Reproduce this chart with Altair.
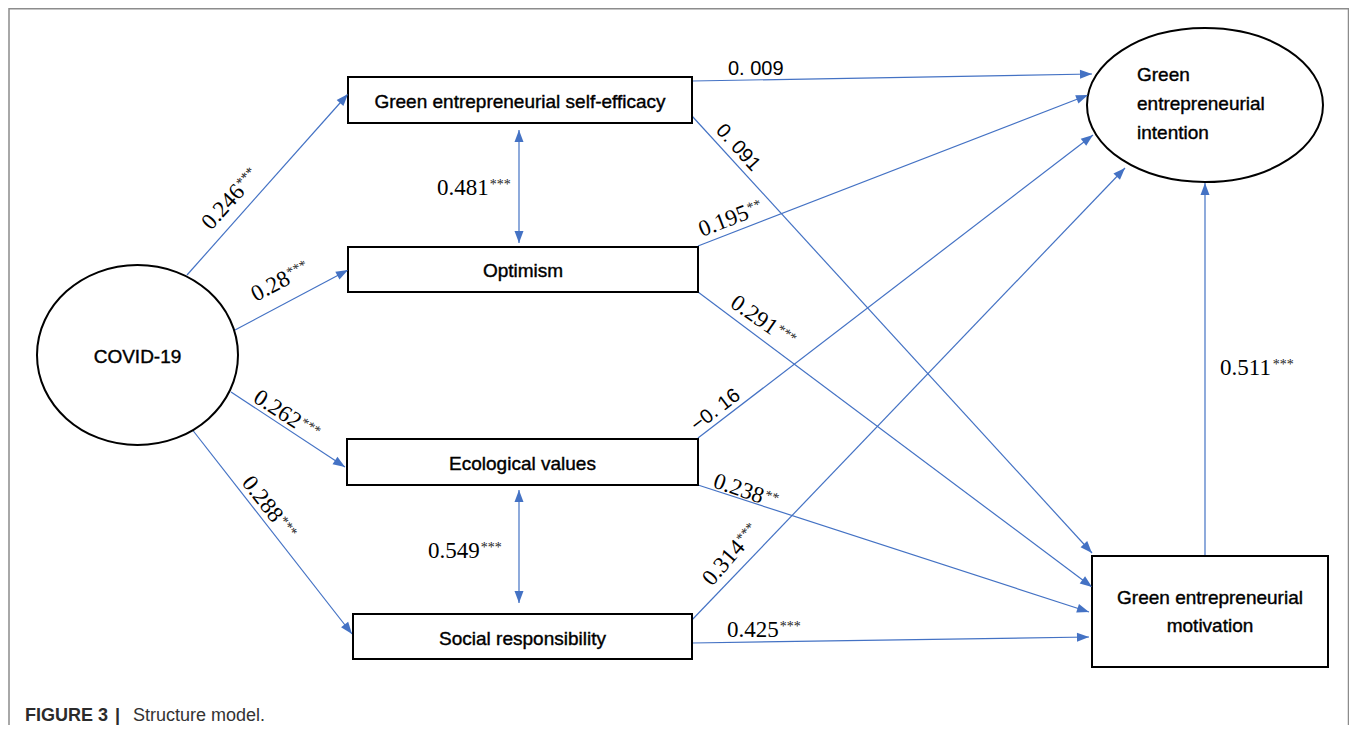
import math
import altair as alt
import pandas as pd

# ---------------- data ----------------
path_from = ["COVID-19", "COVID-19", "COVID-19", "COVID-19",
             "Green entrepreneurial self-efficacy", "Green entrepreneurial self-efficacy",
             "Optimism", "Optimism", "Ecological values", "Ecological values",
             "Social responsibility", "Social responsibility",
             "Green entrepreneurial motivation"]
path_to = ["Green entrepreneurial self-efficacy", "Optimism", "Ecological values",
           "Social responsibility",
           "Green entrepreneurial intention", "Green entrepreneurial motivation",
           "Green entrepreneurial intention", "Green entrepreneurial motivation",
           "Green entrepreneurial intention", "Green entrepreneurial motivation",
           "Green entrepreneurial intention", "Green entrepreneurial motivation",
           "Green entrepreneurial intention"]
path_coef = ["0.246", "0.28", "0.262", "0.288", "0. 009", "0. 091", "0.195", "0.291",
             "\u22120. 16", "0.238", "0.314", "0.425", "0.511"]
path_sig = ["***", "***", "***", "***", "", "", "**", "***", "", "**", "***", "***", "***"]

corr_a = ["Green entrepreneurial self-efficacy", "Ecological values"]
corr_b = ["Optimism", "Social responsibility"]
corr_coef = ["0.481", "0.549"]
corr_sig = ["***", "***"]

caption_text = ["FIGURE 3", "|", "Structure model."]

# ---------------- layout (positions in page pixels) ----------------
box_layout = {
    "Green entrepreneurial self-efficacy": (348, 77, 692, 123),
    "Optimism": (348, 247, 698, 292),
    "Ecological values": (347, 439, 698, 485),
    "Social responsibility": (353, 614, 692, 659),
    "Green entrepreneurial motivation": (1092, 556, 1328, 667),
}
ellipse_layout = {
    "COVID-19": (137.5, 355, 100.5, 90),
    "Green entrepreneurial intention": (1205, 105, 118, 77),
}
node_text_layout = {
    "COVID-19": (["COVID-19"], 137.5, [363], "center"),
    "Green entrepreneurial self-efficacy": (["Green entrepreneurial self-efficacy"], 520, [108], "center"),
    "Optimism": (["Optimism"], 523, [277], "center"),
    "Ecological values": (["Ecological values"], 522.5, [470], "center"),
    "Social responsibility": (["Social responsibility"], 522.5, [645], "center"),
    "Green entrepreneurial motivation": (["Green entrepreneurial", "motivation"], 1210, [604, 632], "center"),
    "Green entrepreneurial intention": (["Green", "entrepreneurial", "intention"], 1137, [81, 110, 139], "left"),
}
path_geom = [
    (187, 275, 348, 94), (235, 330, 348, 270), (231, 392, 345, 467), (191, 428, 352, 634),
    (692, 81, 1092, 74), (692, 116, 1092, 553), (698, 246, 1088, 95), (698, 292, 1092, 587),
    (698, 438, 1093, 135), (698, 485, 1089, 612), (690, 622, 1125, 168), (692, 643, 1089, 637),
    (1205, 556, 1205, 183),
]
path_label_geom = [
    (211, 231, -48), (256, 302, -28), (252, 401, 33), (241, 483, 52),
    (728, 75, 0), (715, 131, 48), (702, 237, -21), (729, 306, 35),
    (697, 432, -37.5), (712, 487, 19), (712, 587, -49), (727, 637, 0), (1220, 375, 0),
]
corr_geom = [(519, 130, 519, 243), (519, 490, 519, 603)]
corr_label_geom = [(437, 195, 0), (428, 558, 0)]
caption_geom = [(25, 721, "bold"), (115, 721, "bold"), (133, 721, "normal")]

BLUE = "#4472C4"
SERIF = "Liberation Serif"
SANS = "Liberation Sans"
SERIF_SIZE = 23
SANS_LABEL_SIZE = 20
NODE_SIZE = 19

W, H = 1341, 717
X0, Y0 = 8, 8
xs = alt.Scale(domain=[X0, X0 + W], nice=False, zero=False)
ys = alt.Scale(domain=[Y0, Y0 + H], nice=False, zero=False, reverse=True)


def X(f="x"):
    return alt.X(f"{f}:Q", scale=xs, axis=None)


def Y(f="y"):
    return alt.Y(f"{f}:Q", scale=ys, axis=None)


# ---------------- build tables ----------------
line_rows, head_rows = [], []
for (x1, y1, x2, y2) in path_geom:
    line_rows.append(dict(x=x1, y=y1, x2=x2, y2=y2))
    head_rows.append(dict(x=x2, y=y2, ang=math.degrees(math.atan2(y2 - y1, x2 - x1)) % 360))
for (x1, y1, x2, y2) in corr_geom:
    line_rows.append(dict(x=x1, y=y1, x2=x2, y2=y2))
    head_rows.append(dict(x=x2, y=y2, ang=math.degrees(math.atan2(y2 - y1, x2 - x1)) % 360))
    head_rows.append(dict(x=x1, y=y1, ang=math.degrees(math.atan2(y1 - y2, x1 - x2)) % 360))
lines_df = pd.DataFrame(line_rows)
heads_df = pd.DataFrame(head_rows)

boxes_df = pd.DataFrame([dict(name=k, x=v[0], y=v[1], x2=v[2], y2=v[3]) for k, v in box_layout.items()])

node_text_rows = []
for name, (lines, tx, bys, al) in node_text_layout.items():
    for ln, by in zip(lines, bys):
        node_text_rows.append(dict(text=ln, x=tx, y=by, align=al))
node_text_df = pd.DataFrame(node_text_rows)

serif_rows, sans_rows, star_rows = [], [], []
all_coef = path_coef + corr_coef
all_sig = path_sig + corr_sig
all_geom = path_label_geom + corr_label_geom
for coef, sig, (lx, ly, a) in zip(all_coef, all_sig, all_geom):
    ang = a % 360
    if " " in coef:
        sans_rows.append(dict(text=coef, x=lx, y=ly, ang=ang))
    else:
        serif_rows.append(dict(text=coef, x=lx, y=ly, ang=ang))
        if sig:
            nd = sum(c.isdigit() for c in coef)
            npd = coef.count(".")
            w = SERIF_SIZE * (0.5 * nd + 0.25 * npd) + 1
            r = math.radians(a)
            star_rows.append(dict(text=sig, x=lx + w * math.cos(r), y=ly + w * math.sin(r), ang=ang))
serif_df = pd.DataFrame(serif_rows)
sans_df = pd.DataFrame(sans_rows)
star_df = pd.DataFrame(star_rows)

cap_df = pd.DataFrame([dict(text=t, x=g[0], y=g[1], weight=g[2]) for t, g in zip(caption_text, caption_geom)])


def ellipse_path(k):
    c = 0.5523
    return (f"M-1,0C-1,{-c*k:.4f} {-c},{-k:.4f} 0,{-k:.4f}"
            f"C{c},{-k:.4f} 1,{-c*k:.4f} 1,0"
            f"C1,{c*k:.4f} {c},{k:.4f} 0,{k:.4f}"
            f"C{-c},{k:.4f} -1,{c*k:.4f} -1,0Z")


# ---------------- layers ----------------
frame_df = pd.DataFrame([dict(x=9, y=8.8, x2=1348.5, y2=760)])
frame = alt.Chart(frame_df).mark_rect(fill="white", stroke="#8c8c8c", strokeWidth=1.5).encode(
    x=X(), y=Y(), x2="x2:Q", y2="y2:Q")

lines = alt.Chart(lines_df).mark_rule(color=BLUE, strokeWidth=1.2).encode(
    x=X(), y=Y(), x2="x2:Q", y2="y2:Q")

heads = alt.Chart(heads_df).mark_point(
    shape="M0,0L-2,-0.75L-2,0.75Z", size=144, filled=True, color=BLUE, opacity=1, strokeWidth=0
).encode(x=X(), y=Y(), angle=alt.Angle("ang:Q", scale=None))

boxes = alt.Chart(boxes_df).mark_rect(fill="white", stroke="black", strokeWidth=2).encode(
    x=X(), y=Y(), x2="x2:Q", y2="y2:Q")

ell_layers = []
for name, (cx, cy, rx, ry) in ellipse_layout.items():
    edf = pd.DataFrame([dict(name=name, x=cx, y=cy)])
    ell_layers.append(
        alt.Chart(edf).mark_point(
            shape=ellipse_path(ry / rx), size=(2 * rx) ** 2, filled=False,
            stroke="black", strokeWidth=2, opacity=1, fill="white", fillOpacity=1
        ).encode(x=X(), y=Y())
    )

node_center = alt.Chart(node_text_df[node_text_df["align"] == "center"]).mark_text(
    font=SANS, fontSize=NODE_SIZE, color="black", align="center", baseline="alphabetic",
    stroke="black", strokeWidth=0.4
).encode(x=X(), y=Y(), text="text:N")
node_left = alt.Chart(node_text_df[node_text_df["align"] == "left"]).mark_text(
    font=SANS, fontSize=NODE_SIZE, color="black", align="left", baseline="alphabetic",
    stroke="black", strokeWidth=0.4
).encode(x=X(), y=Y(), text="text:N")

serif_txt = alt.Chart(serif_df).mark_text(
    font=SERIF, fontSize=SERIF_SIZE, color="black", align="left", baseline="alphabetic"
).encode(x=X(), y=Y(), text="text:N", angle=alt.Angle("ang:Q", scale=None))

sans_txt = alt.Chart(sans_df).mark_text(
    font=SANS, fontSize=SANS_LABEL_SIZE, color="black", align="left", baseline="alphabetic"
).encode(x=X(), y=Y(), text="text:N", angle=alt.Angle("ang:Q", scale=None))

stars = alt.Chart(star_df).mark_text(
    font=SERIF, fontSize=14, color="#222222", align="left", baseline="alphabetic", dy=-6
).encode(x=X(), y=Y(), text="text:N", angle=alt.Angle("ang:Q", scale=None))

cap_bold = alt.Chart(cap_df[cap_df["weight"] == "bold"]).mark_text(
    font=SANS, fontSize=18, fontWeight="bold", color="#2b2b2b", align="left", baseline="alphabetic"
).encode(x=X(), y=Y(), text="text:N")
cap_norm = alt.Chart(cap_df[cap_df["weight"] == "normal"]).mark_text(
    font=SANS, fontSize=18, color="#333333", align="left", baseline="alphabetic"
).encode(x=X(), y=Y(), text="text:N")

chart = alt.layer(
    frame, lines, *ell_layers, boxes, heads,
    node_center, node_left, serif_txt, sans_txt, stars, cap_bold, cap_norm
).properties(
    width=W, height=H, padding=0, autosize=alt.AutoSizeParams(type="none"), background="white"
).configure_view(strokeWidth=0)

chart.save("out.html", embed_options={"renderer": "svg", "actions": False})
